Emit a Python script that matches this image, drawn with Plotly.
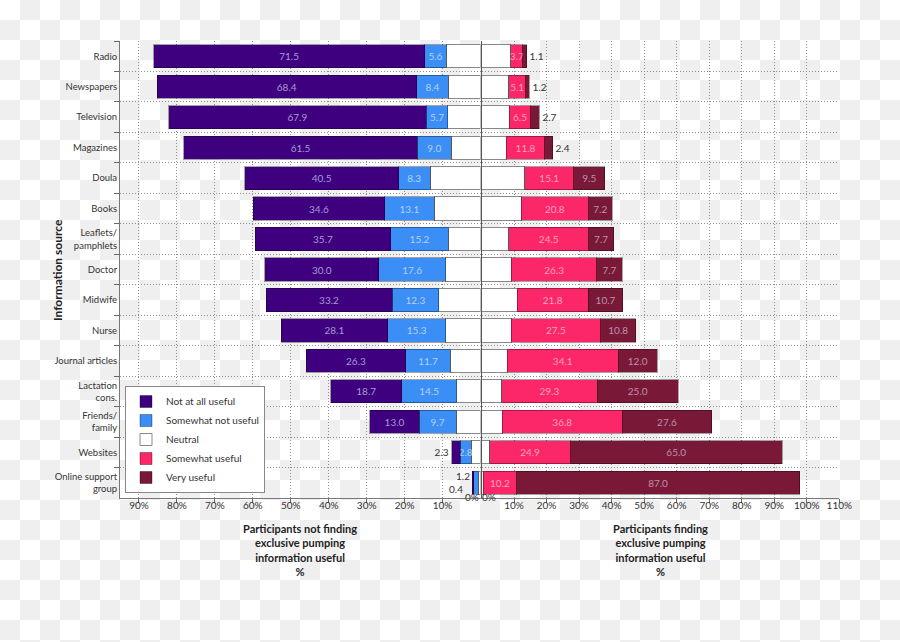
import base64
import plotly.graph_objects as go

# ---------------- data ----------------
categories = ["Radio", "Newspapers", "Television", "Magazines", "Doula", "Books",
              "Leaflets/<br>pamphlets", "Doctor", "Midwife", "Nurse", "Journal articles",
              "Lactation<br>cons.", "Friends/<br>family", "Websites", "Online support<br>group"]
not_at_all = [71.5, 68.4, 67.9, 61.5, 40.5, 34.6, 35.7, 30.0, 33.2, 28.1, 26.3, 18.7, 13.0, 2.3, 0.4]
somewhat_not = [5.6, 8.4, 5.7, 9.0, 8.3, 13.1, 15.2, 17.6, 12.3, 15.3, 11.7, 14.5, 9.7, 2.8, 1.2]
neutral = [18.1, 16.9, 17.2, 15.3, 26.6, 24.3, 16.9, 18.4, 22.0, 18.3, 15.9, 12.5, 12.9, 5.0, 1.2]
somewhat_useful = [3.7, 5.1, 6.5, 11.8, 15.1, 20.8, 24.5, 26.3, 21.8, 27.5, 34.1, 29.3, 36.8, 24.9, 10.2]
very_useful = [1.1, 1.2, 2.7, 2.4, 9.5, 7.2, 7.7, 7.7, 10.7, 10.8, 12.0, 25.0, 27.6, 65.0, 87.0]

left_ticks = [10, 20, 30, 40, 50, 60, 70, 80, 90]
right_ticks = [10, 20, 30, 40, 50, 60, 70, 80, 90, 100, 110]
series_names = ["Not at all useful", "Somewhat not useful", "Neutral", "Somewhat useful", "Very useful"]

# ---------------- styles ----------------
FONT = "Lato"
C_NOT = "#3f007f"
C_SNOT = "#3a8ef6"
C_NEU = "#ffffff"
C_SU = "#fc2769"
C_VU = "#7a1838"
TXT_DARK = "#333333"

W, H = 900, 642
def px_x(v):
    return v / W
def px_y(v):
    return (H - v) / H

xl_dom = [px_x(120), px_x(480.5)]
xr_dom = [px_x(481.5), px_x(839.3)]
y_dom = [px_y(498), px_y(41)]

# checkerboard background (transparent-image look)
svg = ("<svg xmlns='http://www.w3.org/2000/svg' width='900' height='642'>"
       "<defs><pattern id='p' width='40' height='40' patternUnits='userSpaceOnUse'>"
       "<rect width='40' height='40' fill='#ffffff'/>"
       "<rect x='20' y='0' width='20' height='20' fill='#efefef'/>"
       "<rect x='0' y='20' width='20' height='20' fill='#efefef'/>"
       "</pattern></defs><rect width='900' height='642' fill='url(#p)'/></svg>")
src = "data:image/svg+xml;base64," + base64.b64encode(svg.encode()).decode()

fig = go.Figure()

half_neutral = [n / 2 for n in neutral]
special = [i for i in range(len(categories)) if somewhat_not[i] < 2 and not_at_all[i] < 2]

def txt(vals, skip=()):
    return ["" if i in skip else f"{v:.1f}" for i, v in enumerate(vals)]

line = dict(color="rgba(0,0,0,0.35)", width=1)
common = dict(orientation="h", insidetextanchor="middle", textangle=0,
              constraintext="none", cliponaxis=False)

# left side: stacked from the centre outwards
fig.add_trace(go.Bar(y=categories, x=half_neutral, name=series_names[2],
                     marker=dict(color=C_NEU, line=dict(color="#888888", width=1)),
                     xaxis="x", yaxis="y", legendrank=3, showlegend=True, hoverinfo="skip", **common))
fig.add_trace(go.Bar(y=categories, x=somewhat_not, name=series_names[1],
                     marker=dict(color=C_SNOT, line=line),
                     text=txt(somewhat_not, special), texttemplate="%{text}", textposition="inside",
                     insidetextfont=dict(color="#b6d0f5", size=10, family=FONT),
                     xaxis="x", yaxis="y", legendrank=2, **common))
fig.add_trace(go.Bar(y=categories, x=not_at_all, name=series_names[0],
                     marker=dict(color=C_NOT, line=line),
                     text=txt(not_at_all, special), texttemplate="%{text}",
                     textposition=["outside" if v < 3 else "inside" for v in not_at_all],
                     insidetextfont=dict(color="#a49bd6", size=10, family=FONT),
                     outsidetextfont=dict(color=TXT_DARK, size=10, family=FONT),
                     xaxis="x", yaxis="y", legendrank=1, **common))

# right side
fig.add_trace(go.Bar(y=categories, x=half_neutral, name=series_names[2],
                     marker=dict(color=C_NEU, line=dict(color="#888888", width=1)),
                     xaxis="x2", yaxis="y2", showlegend=False, hoverinfo="skip", **common))
fig.add_trace(go.Bar(y=categories, x=somewhat_useful, name=series_names[3],
                     marker=dict(color=C_SU, line=line),
                     text=txt(somewhat_useful), texttemplate="%{text}", textposition="inside",
                     insidetextfont=dict(color="#f7a3c0", size=10, family=FONT),
                     xaxis="x2", yaxis="y2", legendrank=4, **common))
fig.add_trace(go.Bar(y=categories, x=very_useful, name=series_names[4],
                     marker=dict(color=C_VU, line=line),
                     text=txt(very_useful), texttemplate="%{text}",
                     textposition=["outside" if v < 3 else "inside" for v in very_useful],
                     insidetextfont=dict(color="#bb93a8", size=10, family=FONT),
                     outsidetextfont=dict(color=TXT_DARK, size=10, family=FONT),
                     xaxis="x2", yaxis="y2", legendrank=5, **common))

annotations = []
# labels of the tiny bars in the last row
for i in special:
    left_end = half_neutral[i] + somewhat_not[i] + not_at_all[i]
    annotations.append(dict(x=left_end, y=categories[i], xref="x", yref="y",
                            text=f"{somewhat_not[i]:.1f}", showarrow=False, xanchor="right",
                            xshift=0, yshift=7, font=dict(size=10, color=TXT_DARK, family=FONT)))
    annotations.append(dict(x=left_end, y=categories[i], xref="x", yref="y",
                            text=f"{not_at_all[i]:.1f}", showarrow=False, xanchor="right",
                            xshift=-7, yshift=-6, font=dict(size=10, color=TXT_DARK, family=FONT)))

# 0% tick labels, pushed apart around the shared centre
annotations.append(dict(x=0, y=px_y(504.5), xref="x", yref="paper", text="0%", showarrow=False,
                        xshift=-9, font=dict(size=10, color=TXT_DARK, family=FONT)))
annotations.append(dict(x=0, y=px_y(504.5), xref="x2", yref="paper", text="0%", showarrow=False,
                        xshift=7, font=dict(size=10, color=TXT_DARK, family=FONT)))

# axis titles
annotations.append(dict(x=0.5, y=px_y(520), xref="x domain", yref="paper", yanchor="top",
                        text="<b>Participants not finding<br>exclusive pumping<br>information useful<br>%</b>",
                        showarrow=False, font=dict(size=11, color="#222222", family=FONT)))
annotations.append(dict(x=0.5, y=px_y(520), xref="x2 domain", yref="paper", yanchor="top",
                        text="<b>Participants finding<br>exclusive pumping<br>information useful<br>%</b>",
                        showarrow=False, font=dict(size=11, color="#222222", family=FONT)))
annotations.append(dict(x=px_x(57), y=px_y(270), xref="paper", yref="paper", textangle=-90,
                        xanchor="center", yanchor="middle",
                        text="<b>Information source</b>", showarrow=False,
                        font=dict(size=12, color="#222222", family=FONT)))

grid = dict(showgrid=True, gridcolor="#8f8f8f", griddash="1px,2px", gridwidth=1)

fig.update_layout(
    template="none",
    width=W, height=H, autosize=False,
    margin=dict(l=0, r=0, t=0, b=0, pad=0),
    paper_bgcolor="rgba(0,0,0,0)", plot_bgcolor="rgba(0,0,0,0)",
    barmode="stack", bargap=0.24,
    font=dict(family=FONT, size=10, color=TXT_DARK),
    uniformtext=dict(minsize=10, mode="show"),
    images=[dict(source=src, xref="paper", yref="paper", x=0, y=1, sizex=1, sizey=1,
                 xanchor="left", yanchor="top", sizing="stretch", layer="below")],
    xaxis=dict(domain=xl_dom, range=[95, 0], anchor="y", tickvals=left_ticks, automargin=False,
               ticktext=[f"{t}%" for t in left_ticks], ticks="outside", ticklen=4,
               tickcolor="#666666", showline=True, linecolor="#777777", zeroline=False,
               ticklabelstandoff=-6, tickfont=dict(size=10, color=TXT_DARK), **grid),
    xaxis2=dict(domain=xr_dom, range=[0, 110], anchor="y2", tickvals=right_ticks, automargin=False,
                ticktext=[f"{t}%" for t in right_ticks], ticks="outside", ticklen=4,
                tickcolor="#666666", showline=True, linecolor="#777777", zeroline=False,
                ticklabelstandoff=-6, tickfont=dict(size=10, color=TXT_DARK), **grid),
    yaxis=dict(domain=y_dom, anchor="x", categoryorder="array", categoryarray=categories,
               range=[14.5, -0.5], tickson="boundaries", ticks="outside", ticklen=5, automargin=False,
               tickcolor="#666666", showline=True, linecolor="#777777", zeroline=False,
               tickfont=dict(size=9.5, color=TXT_DARK), **grid),
    yaxis2=dict(domain=y_dom, anchor="x2", matches="y", categoryorder="array", automargin=False,
                categoryarray=categories, range=[14.5, -0.5], tickson="boundaries", zeroline=False,
                showticklabels=False, ticks="", showline=True, linecolor="#555555", **grid),
    legend=dict(x=px_x(125), y=px_y(493), xanchor="left", yanchor="bottom",
                bgcolor="#ffffff", bordercolor="#888888", borderwidth=1,
                font=dict(size=10, color=TXT_DARK, family=FONT), traceorder="normal"),
    annotations=annotations,
)

fig.write_html("out.html", config={"responsive": False})
